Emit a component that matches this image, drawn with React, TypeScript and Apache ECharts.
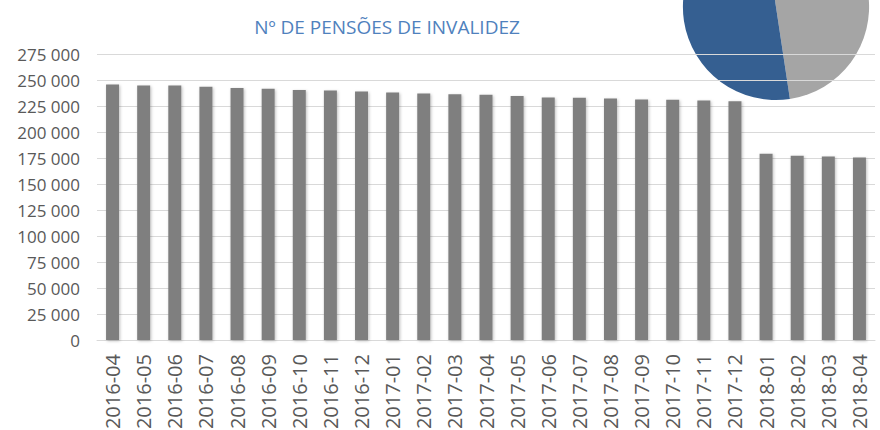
import React, { useEffect, useRef } from "react";
import * as echarts from "echarts";

const categories = [
  "2016-04", "2016-05", "2016-06", "2016-07", "2016-08", "2016-09", "2016-10", "2016-11", "2016-12",
  "2017-01", "2017-02", "2017-03", "2017-04", "2017-05", "2017-06", "2017-07", "2017-08", "2017-09",
  "2017-10", "2017-11", "2017-12", "2018-01", "2018-02", "2018-03", "2018-04",
];

const pensions = [
  245600, 244700, 244600, 243400, 242400, 241500, 240500, 239800, 238900,
  237900, 236900, 236300, 235700, 234700, 233100, 233000, 232200, 231200,
  231100, 230200, 229600, 179100, 177200, 176500, 175600,
];

const pieNames = ["B", "A"];
const pieValues = [50, 50];
const pieColors = ["#A5A5A5", "#355F91"];

const titleText = "Nº DE PENSÕES DE INVALIDEZ";

const fmt = (v: number) => String(v).replace(/\B(?=(\d{3})+(?!\d))/g, " ");

export default function App() {
  const ref = useRef<HTMLDivElement>(null);
  useEffect(() => {
    if (!ref.current) return;
    const chart = echarts.init(ref.current, null, { renderer: "svg" });
    const font = "'Open Sans', 'Liberation Sans', sans-serif";
    chart.setOption({
      animation: false,
      backgroundColor: "#FFFFFF",
      title: {
        text: titleText,
        left: 382,
        textAlign: "center",
        top: 12,
        textStyle: { color: "#4F81BD", fontSize: 19, fontWeight: "normal", fontFamily: font },
      },
      grid: { left: 97, right: 5, top: 54, bottom: 90, containLabel: false, outerBoundsMode: "none" },
      xAxis: {
        type: "category",
        data: categories,
        z: 1,
        axisLine: { show: true, lineStyle: { color: "#D9D9D9", width: 1 } },
        axisTick: { show: false },
        axisLabel: {
          rotate: 90,
          color: "#595959",
          fontSize: 20,
          fontFamily: font,
          margin: 14,
          interval: 0,
        },
      },
      yAxis: {
        type: "value",
        min: 0,
        max: 275000,
        interval: 25000,
        z: 1,
        axisLine: { show: false },
        axisTick: { show: false },
        splitLine: { lineStyle: { color: "#D9D9D9", width: 1 } },
        axisLabel: {
          color: "#595959",
          fontSize: 17,
          fontFamily: font,
          margin: 17,
          formatter: (v: number) => fmt(v),
        },
      },
      series: [
        {
          type: "pie",
          z: 0,
          silent: true,
          center: [776, 7],
          radius: 93,
          startAngle: 98.6,
          clockwise: true,
          label: { show: false },
          labelLine: { show: false },
          data: pieNames.map((n, i) => ({ name: n, value: pieValues[i], itemStyle: { color: pieColors[i] } })),
        },
        {
          type: "bar",
          z: 2,
          data: pensions,
          barWidth: 13,
          itemStyle: {
            color: "#7F7F7F",
            shadowColor: "rgba(0,0,0,0.25)",
            shadowBlur: 3,
            shadowOffsetX: 1,
            shadowOffsetY: 1,
          },
        },
      ],
    });
    return () => chart.dispose();
  }, []);
  return (
    <div
      ref={ref}
      style={{ position: "fixed", left: 0, top: 0, width: 880, height: 430 }}
    />
  );
}
